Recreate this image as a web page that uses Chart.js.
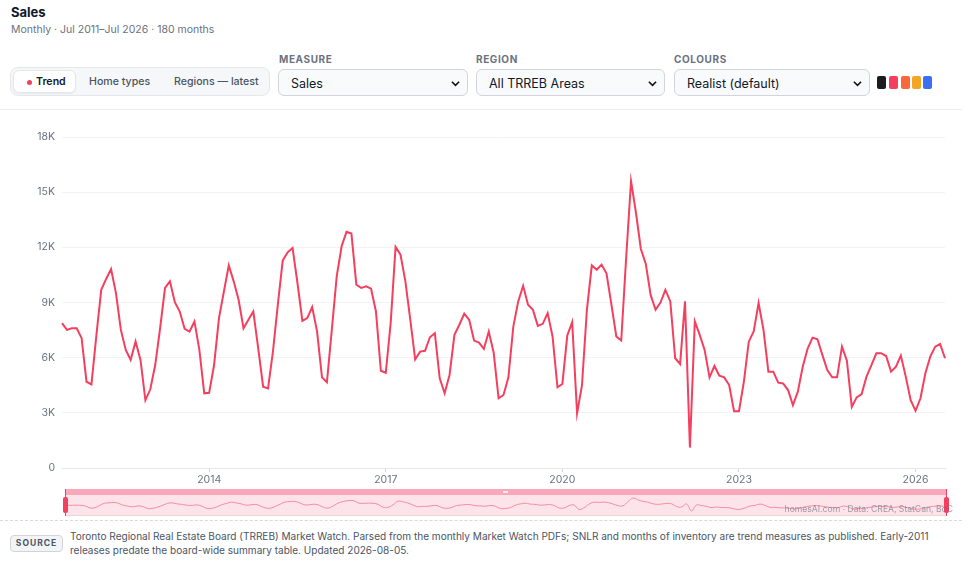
<!DOCTYPE html>
<html>
<head>
<meta charset="utf-8">
<title>Sales</title>
<script src="https://cdn.jsdelivr.net/npm/chart.js@4.4.1/dist/chart.umd.min.js"></script>
<style>
  body { margin: 0; width: 980px; height: 565px; background: #fff; position: relative; overflow: hidden;
         font-family: Inter, "Noto Sans", sans-serif; color: #111827; }
  .abs { position: absolute; }
  #title { left: 11px; top: 4px; font-size: 13px; font-weight: 700; line-height: 16px; }
  #sub { left: 11px; top: 23px; font-size: 10.5px; line-height: 14px; color: #6b7280; }
  #seg { left: 10px; top: 67px; width: 260px; height: 29px; box-sizing: border-box; border: 1px solid #e5e7eb;
         border-radius: 8px; background: #f6f7f8; }
  #seg .btn { position: absolute; top: 2px; height: 23px; box-sizing: border-box; font-size: 10.6px; line-height: 24px;
              font-weight: 500; color: #4b5563; white-space: nowrap; }
  #seg .on { left: 2px; width: 63px; background: #fff; border: 1px solid #e5e7eb; border-radius: 6px; line-height: 22px;
             box-shadow: 0 1px 2px rgba(0,0,0,0.06); color: #111827; font-weight: 600; padding-left: 22px; }
  #seg .on::before { content: ""; position: absolute; left: 13px; top: 9px; width: 5px; height: 5px; border-radius: 50%; background: #f43f5e; }
  .lbl { top: 53px; font-size: 10px; font-weight: 700; letter-spacing: 0.6px; color: #6b7280; line-height: 12px; }
  .sel { top: 69px; height: 27px; box-sizing: border-box; border: 1px solid #d1d5db; border-radius: 6px; background: #f9fafb;
         font-size: 12.5px; line-height: 27px; padding-left: 12px; color: #111827; white-space: nowrap; }
  .sel svg { position: absolute; right: 6px; top: 9px; }
  .sw { top: 76px; width: 9px; height: 13px; border-radius: 2px; }
  #divider { left: 0; top: 109px; width: 962px; height: 1px; background: #ececec; }
  #chartBox { left: 0; top: 120px; width: 980px; height: 370px; }
  #navTop { left: 65px; top: 489px; width: 881px; height: 6px; background: #f9a8b9; }
  #navGrip { left: 503px; top: 491px; width: 5px; height: 2px; background: rgba(255,255,255,0.8); }
  #navBody { left: 65px; top: 495px; width: 881px; height: 20px; background: #fde4ea; border-bottom: 1px solid #f0d4da; }
  #navBox { left: 65px; top: 495px; width: 881px; height: 20px; }
  .hline { top: 489px; width: 1px; height: 27px; background: #f43f5e; }
  .hand { top: 497px; width: 5px; height: 16px; border-radius: 2px; background: #f43f5e; }
  #mark { right: 27px; top: 504px; font-size: 8.6px; line-height: 11px; color: rgba(107,114,128,0.65); white-space: nowrap; }
  #dash { left: 0; top: 520px; width: 962px; border-top: 1px dashed #d9d9d9; }
  #badge { left: 10px; top: 535px; width: 53px; height: 17px; box-sizing: border-box; border: 1px solid #d1d5db; border-radius: 4px;
           background: #f3f4f6; font-size: 8.5px; font-weight: 700; letter-spacing: 1px; color: #4b5563; text-align: center; line-height: 15px; }
  #src { left: 70px; top: 529px; font-size: 10.05px; line-height: 14px; color: #4b5563; white-space: nowrap; }
</style>
</head>
<body>
<div id="title" class="abs">Sales</div>
<div id="sub" class="abs">Monthly · Jul 2011–Jul 2026 · 180 months</div>

<div id="seg" class="abs">
  <div class="btn on">Trend</div>
  <div class="btn" style="left:78px">Home types</div>
  <div class="btn" style="left:163px">Regions — latest</div>
</div>

<div class="abs lbl" style="left:279px">MEASURE</div>
<div class="abs lbl" style="left:476px">REGION</div>
<div class="abs lbl" style="left:674px">COLOURS</div>

<div class="abs sel" style="left:278px;width:190px">Sales<svg width="11" height="9" viewBox="0 0 12 10"><path d="M2 3 L6 7 L10 3" fill="none" stroke="#111" stroke-width="1.8"/></svg></div>
<div class="abs sel" style="left:476px;width:189px">All TRREB Areas<svg width="11" height="9" viewBox="0 0 12 10"><path d="M2 3 L6 7 L10 3" fill="none" stroke="#111" stroke-width="1.8"/></svg></div>
<div class="abs sel" style="left:674px;width:196px">Realist (default)<svg width="11" height="9" viewBox="0 0 12 10"><path d="M2 3 L6 7 L10 3" fill="none" stroke="#111" stroke-width="1.8"/></svg></div>

<div class="abs sw" style="left:877px;background:#1c1c1e"></div>
<div class="abs sw" style="left:889px;background:#f43f5e"></div>
<div class="abs sw" style="left:901px;background:#f9683a"></div>
<div class="abs sw" style="left:912px;background:#f5a524"></div>
<div class="abs sw" style="left:923px;background:#3b6ef5"></div>

<div id="divider" class="abs"></div>

<div id="chartBox" class="abs"><canvas id="salesChart"></canvas></div>

<div id="navBody" class="abs"></div>
<div id="navBox" class="abs"><canvas id="navChart"></canvas></div>
<div id="navTop" class="abs"></div>
<div id="navGrip" class="abs"></div>
<div class="abs hline" style="left:65px"></div>
<div class="abs hand" style="left:63px"></div>
<div class="abs hline" style="left:946px"></div>
<div class="abs hand" style="left:944px"></div>
<div id="mark" class="abs">homesAI.com · Data: CREA, StatCan, BoC</div>

<div id="dash" class="abs"></div>
<div id="badge" class="abs">SOURCE</div>
<div id="src" class="abs">Toronto Regional Real Estate Board (TRREB) Market Watch. Parsed from the monthly Market Watch PDFs; SNLR and months of inventory are trend measures as published. Early-2011<br>releases predate the board-wide summary table. Updated 2026-08-05.</div>

<script>
// month names, start of the series (Jul 2011)
const monthNames = ['Jan','Feb','Mar','Apr','May','Jun','Jul','Aug','Sep','Oct','Nov','Dec'];
const startYear = 2011;
const startMonth = 6;

// monthly sales, Jul 2011 .. Jul 2026
const sales = [
  7880, 7510, 7600, 7600, 7060, 4690,
  4550, 7200, 9690, 10280, 10820, 9510, 7510, 6420, 5880, 6880, 5880, 3690,
  4280, 5600, 7600, 9790, 10150, 9020, 8510, 7570, 7420, 7970, 6420, 4060,
  4090, 5600, 8150, 9600, 11020, 10150, 9150, 7600, 8060, 8510, 6510, 4420,
  4330, 6330, 8900, 11290, 11730, 11970, 10060, 8000, 8150, 8750, 7420, 4930,
  4660, 7510, 10420, 12060, 12840, 12750, 9970, 9790, 9880, 9750, 8510, 5290,
  5180, 7880, 12020, 11600, 10150, 8060, 5910, 6330, 6370, 7110, 7330, 4880,
  4060, 5060, 7240, 7790, 8390, 8060, 6930, 6820, 6480, 7420, 6270, 3790,
  3970, 4930, 7690, 9060, 9910, 8880, 8600, 7730, 7840, 8420, 7150, 4390,
  4570, 7200, 7930, 2970, 4510, 8600, 11020, 10780, 11060, 10570, 8880, 7150,
  6930, 11420, 15600, 13880, 11910, 11110, 9400, 8600, 9000, 9690, 9060, 5970,
  5660, 9060, 1110, 7970, 7240, 6420, 4930, 5550, 5020, 4930, 4510, 3090,
  3090, 4690, 6870, 7420, 8970, 7510, 5240, 5240, 4640, 4600, 4240, 3420,
  4150, 5510, 6500, 7090, 7000, 6150, 5330, 4930, 4930, 6600, 5840, 3330,
  3840, 4020, 4970, 5600, 6240, 6240, 6090, 5240, 5510, 6110, 4970, 3690,
  3110, 3790, 5150, 6060, 6600, 6750, 5970
];

const yearTicks = ['2014', '2017', '2020', '2023', '2026'];
const yMin = 0;
const yMax = 18000;
const yStep = 3000;

const months = sales.map(function (v, i) {
  const m = startMonth + i;
  return monthNames[m % 12] + ' ' + (startYear + Math.floor(m / 12));
});

Chart.defaults.font.family = 'Inter, "Noto Sans", sans-serif';
Chart.defaults.font.size = 10.5;
Chart.defaults.color = '#6b7280';

const lineColor = '#f43f5e';

const salesChart = new Chart(document.getElementById('salesChart').getContext('2d'), {
  type: 'line',
  data: {
    labels: months,
    datasets: [{
      label: 'Sales',
      data: sales,
      borderColor: lineColor,
      borderWidth: 2,
      pointRadius: 0,
      tension: 0,
      fill: false
    }]
  },
  options: {
    responsive: true,
    maintainAspectRatio: false,
    animation: false,
    layout: { padding: { top: 17, right: 35, left: 0, bottom: 0 } },
    plugins: { legend: { display: false }, tooltip: { enabled: false } },
    scales: {
      x: {
        type: 'category',
        offset: false,
        afterBuildTicks: function (scale) {
          scale.ticks = scale.ticks.filter(function (t) {
            const lab = months[t.value];
            return lab.indexOf('Jan ') === 0 && yearTicks.includes(lab.slice(4));
          });
        },
        afterFit: function (scale) { scale.height = 22; },
        ticks: {
          autoSkip: false,
          maxRotation: 0,
          padding: 2,
          color: '#6b7280',
          callback: function (v) { return months[v].slice(4); }
        },
        grid: { drawOnChartArea: false, drawTicks: true, tickLength: 4, color: '#d1d5db' },
        border: { display: true, color: '#e5e7eb' }
      },
      y: {
        min: yMin,
        max: yMax,
        afterFit: function (scale) { scale.width = 62; },
        ticks: {
          stepSize: yStep,
          padding: 7,
          color: '#6b7280',
          callback: function (v) { return v === 0 ? '0' : (v / 1000) + 'K'; }
        },
        grid: { color: '#f2f3f5', drawTicks: false },
        border: { display: false }
      }
    }
  }
});

// small overview line under the chart
const navChart = new Chart(document.getElementById('navChart').getContext('2d'), {
  type: 'line',
  data: {
    labels: months,
    datasets: [{
      data: sales,
      borderColor: '#f58ba1',
      borderWidth: 1,
      pointRadius: 0,
      tension: 0.4,
      fill: false
    }]
  },
  options: {
    responsive: true,
    maintainAspectRatio: false,
    animation: false,
    layout: { padding: 0 },
    plugins: { legend: { display: false }, tooltip: { enabled: false } },
    scales: {
      x: { display: false, offset: false },
      y: { display: false, min: -3400, max: 19100 }
    }
  }
});
</script>
</body>
</html>
